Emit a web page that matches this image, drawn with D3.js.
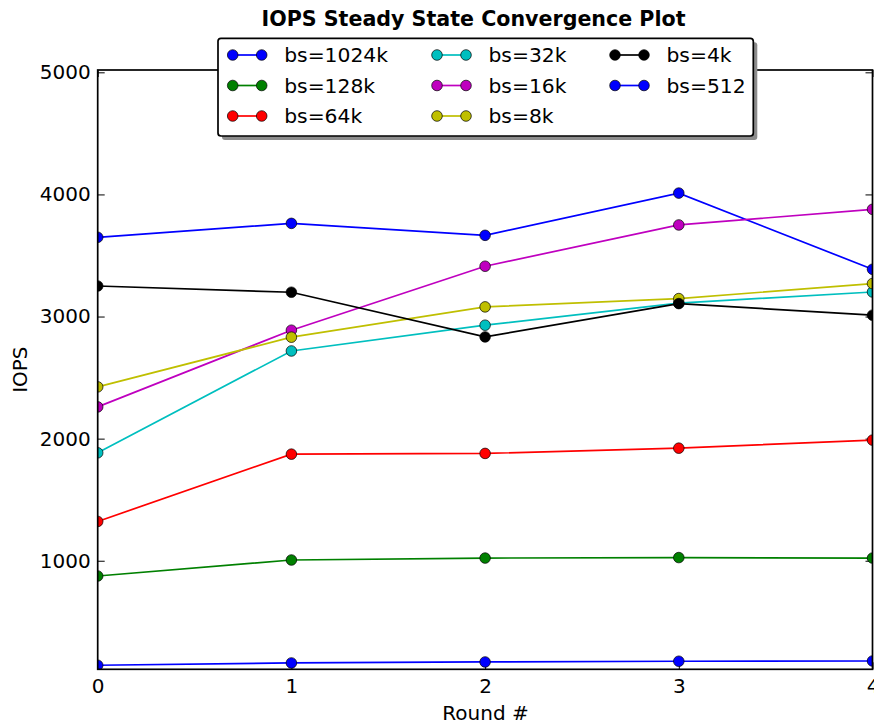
<!DOCTYPE html>
<html>
<head>
<meta charset="utf-8">
<script src="https://cdn.jsdelivr.net/npm/d3@7"></script>
<style>
  html, body { margin: 0; padding: 0; background: #fff; }
  svg { display: block; }
  text { font-family: "DejaVu Sans", sans-serif; }
</style>
</head>
<body>
<div id="chart"></div>
<script>
// ---- data ----
const rounds = [0, 1, 2, 3, 4];
const xTicks = [0, 1, 2, 3, 4];
const yTicks = [1000, 2000, 3000, 4000, 5000];
const seriesNames = ["bs=1024k", "bs=128k", "bs=64k", "bs=32k", "bs=16k", "bs=8k", "bs=4k", "bs=512"];
const seriesColors = ["#0000ff", "#008000", "#ff0000", "#00bfbf", "#bf00bf", "#bfbf00", "#000000", "#0000ff"];
const bs1024k = [3649, 3763, 3665, 4011, 3387];
const bs128k  = [875, 1006, 1022, 1026, 1022];
const bs64k   = [1322, 1873, 1879, 1922, 1988];
const bs32k   = [1884, 2718, 2929, 3110, 3201];
const bs16k   = [2260, 2888, 3412, 3750, 3878];
const bs8k    = [2424, 2831, 3079, 3147, 3270];
const bs4k    = [3250, 3199, 2833, 3106, 3011];
const bs512   = [144, 163, 171, 177, 179];
const seriesValues = [bs1024k, bs128k, bs64k, bs32k, bs16k, bs8k, bs4k, bs512];
const yDomain = [111, 5019];

(function () {
// ---- layout ----
const W = 874, H = 724;
const pL = 97.7, pR = 872.5, pT = 70, pB = 669.3;

const svg = d3.select("#chart").append("svg").attr("width", W).attr("height", H);

const x = d3.scaleLinear().domain([0, 4]).range([pL, pR]);
const y = d3.scaleLinear().domain(yDomain).range([pB, pT]);

svg.append("defs").append("clipPath").attr("id", "clip")
  .append("rect").attr("x", pL).attr("y", pT).attr("width", pR - pL).attr("height", pB - pT);

// axes with inward ticks
const tickLen = 7;
const fs = 20;
const axB = svg.append("g").attr("transform", `translate(0,${pB})`)
  .call(d3.axisBottom(x).tickValues(xTicks).tickSizeInner(-tickLen).tickSizeOuter(0).tickPadding(10).tickFormat(d3.format("d")));
const axT = svg.append("g").attr("transform", `translate(0,${pT})`)
  .call(d3.axisTop(x).tickValues(xTicks).tickSizeInner(-tickLen).tickSizeOuter(0).tickFormat(""));
const axL = svg.append("g").attr("transform", `translate(${pL},0)`)
  .call(d3.axisLeft(y).tickValues(yTicks).tickSizeInner(-tickLen).tickSizeOuter(0).tickPadding(7).tickFormat(d3.format("d")));
const axR = svg.append("g").attr("transform", `translate(${pR},0)`)
  .call(d3.axisRight(y).tickValues(yTicks).tickSizeInner(-tickLen).tickSizeOuter(0).tickFormat(""));
[axB, axT, axL, axR].forEach(g => {
  g.select(".domain").remove();
  g.selectAll(".tick line").attr("stroke", "#000").attr("stroke-width", 1);
  g.selectAll(".tick text").attr("fill", "#000").style("font-size", fs + "px").style("font-family", "DejaVu Sans");
});
axB.selectAll(".tick text").attr("dy", "0.71em");

// series
const line = d3.line().x((d, i) => x(rounds[i])).y(d => y(d));
const plot = svg.append("g").attr("clip-path", "url(#clip)");
seriesValues.forEach((vals, si) => {
  plot.append("path").datum(vals).attr("d", line)
    .attr("fill", "none").attr("stroke", seriesColors[si]).attr("stroke-width", 1.7);
  plot.selectAll(null).data(vals).enter().append("circle")
    .attr("cx", (d, i) => x(rounds[i])).attr("cy", d => y(d)).attr("r", 5.3)
    .attr("fill", seriesColors[si]).attr("stroke", "#000").attr("stroke-width", 0.7);
});

// frame
svg.append("rect").attr("x", pL).attr("y", pT).attr("width", pR - pL).attr("height", pB - pT)
  .attr("fill", "none").attr("stroke", "#000").attr("stroke-width", 1.7);

// title & labels
svg.append("text").attr("x", 473.5).attr("y", 26).attr("text-anchor", "middle")
  .style("font-size", "20.6px").style("font-weight", "bold").text("IOPS Steady State Convergence Plot");
svg.append("text").attr("x", 485.5).attr("y", 720).attr("text-anchor", "middle")
  .style("font-size", fs + "px").text("Round #");
svg.append("text").attr("transform", `translate(27,${(pT + pB) / 2}) rotate(-90)`).attr("text-anchor", "middle")
  .style("font-size", fs + "px").text("IOPS");

// legend
const lg = { x: 218, y: 38.3, w: 535.3, h: 97.7 };
svg.append("rect").attr("x", lg.x + 4).attr("y", lg.y + 4).attr("width", lg.w).attr("height", lg.h)
  .attr("rx", 3).attr("fill", "#8c8c8c");
svg.append("rect").attr("x", lg.x).attr("y", lg.y).attr("width", lg.w).attr("height", lg.h)
  .attr("rx", 3).attr("fill", "#fff").attr("stroke", "#000").attr("stroke-width", 1.7);
const colX = [232.7, 437, 615];
const rowY = [55, 85.5, 116];
seriesNames.forEach((name, i) => {
  const c = Math.floor(i / 3), r = i % 3;
  const lx = colX[c], ly = rowY[r];
  const g = svg.append("g");
  g.append("line").attr("x1", lx).attr("x2", lx + 29).attr("y1", ly).attr("y2", ly)
    .attr("stroke", seriesColors[i]).attr("stroke-width", 1.7);
  [lx, lx + 29].forEach(cx => g.append("circle").attr("cx", cx).attr("cy", ly).attr("r", 5.3)
    .attr("fill", seriesColors[i]).attr("stroke", "#000").attr("stroke-width", 0.7));
  g.append("text").attr("x", lx + 51.5).attr("y", ly).attr("dy", "0.36em")
    .style("font-size", "20.3px").text(name);
});
})();
</script>
</body>
</html>
